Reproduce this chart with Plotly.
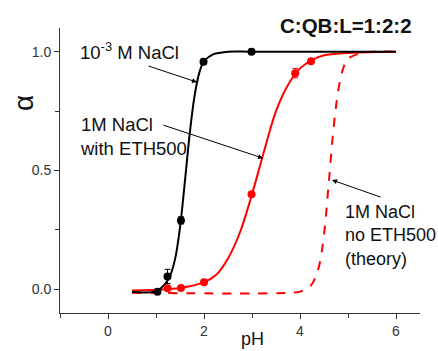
import plotly.graph_objects as go

# Measured data points
black_ph = [1.03, 1.24, 1.52, 1.99, 2.99]
black_alpha = [-0.01, 0.054, 0.29, 0.958, 1.0]
black_err = [0.0, 0.03, 0.015, 0.01, 0.0]

red_ph = [1.24, 1.52, 2.0, 2.99, 3.9, 4.23]
red_alpha = [0.004, 0.005, 0.03, 0.40, 0.91, 0.96]
red_err = [0.0, 0.0, 0.0, 0.0, 0.02, 0.0]

# Fitted curves
black_fit_ph = [0.5, 1.0, 1.2, 1.3, 1.4, 1.5, 1.6, 1.7, 1.8, 1.9, 2.0, 2.2, 2.5, 3.0, 6.0]
black_fit_alpha = [-0.012, -0.008, 0.025, 0.06, 0.13, 0.26, 0.45, 0.65, 0.81, 0.91, 0.96, 0.99, 1.0, 1.0, 1.0]

red_fit_ph = [0.5, 1.0, 1.5, 2.0, 2.25, 2.5, 2.75, 3.0, 3.25, 3.5, 3.75, 4.0, 4.25, 4.5, 5.0, 6.0]
red_fit_alpha = [-0.005, -0.002, 0.005, 0.03, 0.06, 0.13, 0.24, 0.40, 0.58, 0.75, 0.86, 0.93, 0.965, 0.985, 0.995, 1.0]

theory_ph = [0.5, 3.8, 4.0, 4.2, 4.3, 4.4, 4.5, 4.6, 4.7, 4.8, 4.9, 5.0, 5.2, 5.5, 6.0]
theory_alpha = [-0.015, -0.015, -0.01, 0.01, 0.04, 0.10, 0.23, 0.45, 0.68, 0.84, 0.93, 0.97, 0.99, 1.0, 1.0]

x_ticks = [0, 2, 4, 6]
y_ticks = [0.0, 0.5, 1.0]

fig = go.Figure()
fig.add_trace(go.Scatter(x=theory_ph, y=theory_alpha, mode="lines", line=dict(color="#ff0000", width=2, dash="dash", shape="spline"), showlegend=False))
fig.add_trace(go.Scatter(x=red_fit_ph, y=red_fit_alpha, mode="lines", line=dict(color="#ff0000", width=2, shape="spline"), showlegend=False))
fig.add_trace(go.Scatter(x=black_fit_ph, y=black_fit_alpha, mode="lines", line=dict(color="#000000", width=2, shape="spline"), showlegend=False))
fig.add_trace(go.Scatter(x=red_ph, y=red_alpha, mode="markers", marker=dict(color="#ff0000", size=8),
                         error_y=dict(type="data", array=red_err, color="#ff0000", thickness=1, width=3), showlegend=False))
fig.add_trace(go.Scatter(x=black_ph, y=black_alpha, mode="markers", marker=dict(color="#000000", size=8),
                         error_y=dict(type="data", array=black_err, color="#000000", thickness=1, width=3), showlegend=False))

font = "Liberation Sans, Arial, sans-serif"
annots = [
    dict(x=-0.625, y=1.005, xref="x", yref="y", text="10<sup>-3</sup> M NaCl", showarrow=False,
         xanchor="left", yanchor="middle", font=dict(size=18.5, color="#111")),
    dict(x=-0.625, y=0.645, xref="x", yref="y", text="1M NaCl<br>with ETH500", showarrow=False,
         xanchor="left", yanchor="middle", align="left", font=dict(size=18.5, color="#111")),
    dict(x=4.9, y=0.228, xref="x", yref="y", text="1M NaCl<br>no ETH500<br>(theory)", showarrow=False,
         xanchor="left", yanchor="middle", align="left", font=dict(size=18, color="#111")),
    dict(x=1.854, y=0.872, ax=0.8125, ay=0.942, xref="x", yref="y", axref="x", ayref="y", text="",
         showarrow=True, arrowhead=2, arrowsize=1, arrowwidth=1, arrowcolor="#000"),
    dict(x=3.229, y=0.552, ax=1.125, ay=0.693, xref="x", yref="y", axref="x", ayref="y", text="",
         showarrow=True, arrowhead=2, arrowsize=1, arrowwidth=1, arrowcolor="#000"),
    dict(x=4.667, y=0.46, ax=5.708, ay=0.386, xref="x", yref="y", axref="x", ayref="y", text="",
         showarrow=True, arrowhead=2, arrowsize=1, arrowwidth=1, arrowcolor="#000"),
    dict(x=0.605, y=1.0104, xref="paper", yref="paper", text="<b>C:QB:L=1:2:2</b>", showarrow=False,
         xanchor="left", yanchor="middle", font=dict(size=20.5, color="#111")),
    dict(x=3.02, y=-0.09, xref="x", yref="paper", text="pH", showarrow=False,
         xanchor="center", yanchor="middle", font=dict(size=18, color="#111")),
    dict(x=-0.103, y=0.784, xref="paper", yref="y", text="α", showarrow=False, textangle=-90,
         xanchor="center", yanchor="middle", font=dict(size=28, color="#111")),
]

fig.update_layout(
    width=438, height=351,
    margin=dict(l=60, r=18, t=28, b=34),
    paper_bgcolor="white", plot_bgcolor="white",
    font=dict(family=font, size=14, color="#333"),
    annotations=annots,
    xaxis=dict(range=[-1, 6.5], tickvals=x_ticks, ticktext=[str(v) for v in x_ticks],
               showgrid=False, zeroline=False, showline=True, linecolor="#333", linewidth=1,
               ticks="outside", ticklen=5, tickcolor="#333", tickfont=dict(size=14, color="#333"),
               minor=dict(tickvals=[-1, 1, 3, 5], ticks="outside", ticklen=4, tickcolor="#333")),
    yaxis=dict(range=[-0.1, 1.1], tickvals=y_ticks, ticktext=["%.1f" % v for v in y_ticks],
               showgrid=False, zeroline=False, showline=True, linecolor="#333", linewidth=1,
               ticks="outside", ticklen=5, tickcolor="#333", tickfont=dict(size=14, color="#333"),
               minor=dict(tickvals=[0.25, 0.75], ticks="outside", ticklen=4, tickcolor="#333")),
)

fig.write_html("out.html", config={"displayModeBar": False},
               post_script="document.body.style.margin='0';document.body.style.overflow='hidden';")
